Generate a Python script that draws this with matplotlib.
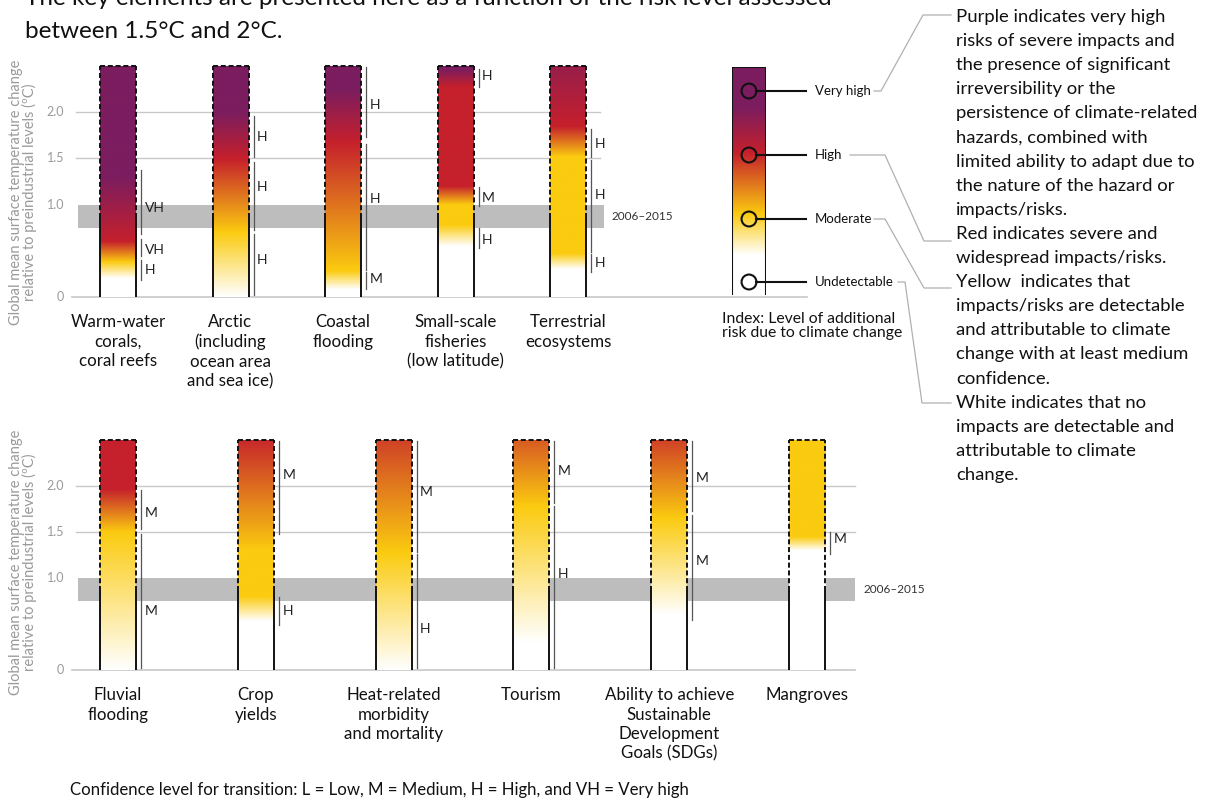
import numpy as np
import matplotlib
matplotlib.use("Agg")
import matplotlib.pyplot as plt
from matplotlib.lines import Line2D

plt.rcParams['font.family'] = ['Lato', 'DejaVu Sans']

W, H = 1213, 808

# ------------------------------------------------------------------ data
top_categories = ["Warm-water\ncorals,\ncoral reefs",
                  "Arctic\n(including\nocean area\nand sea ice)",
                  "Coastal\nflooding",
                  "Small-scale\nfisheries\n(low latitude)",
                  "Terrestrial\necosystems"]
# colour stops: (temperature, risk level) 0=white 1=yellow 2=red 3=purple
top_stops = [
    [(0.20, 0), (0.38, 1), (0.60, 2), (1.30, 3), (2.50, 3)],
    [(0.00, 0), (0.70, 1), (1.50, 2), (2.00, 3), (2.50, 3)],
    [(0.08, 0), (0.28, 1), (1.68, 2), (2.25, 3), (2.50, 3)],
    [(0.55, 0), (0.78, 1), (1.00, 1), (1.20, 2), (2.28, 2), (2.47, 3), (2.50, 3)],
    [(0.30, 0), (0.47, 1), (1.52, 1), (1.85, 2), (2.50, 2.6)],
]
# confidence brackets: (low, high, label, label temperature)
top_brackets = [
    [(0.18, 0.40, "H", 0.29), (0.44, 0.63, "VH", 0.51), (0.68, 1.37, "VH", 0.96)],
    [(0.02, 0.68, "H", 0.40), (0.73, 1.46, "H", 1.19), (1.52, 1.96, "H", 1.73)],
    [(0.09, 0.27, "M", 0.19), (0.29, 1.66, "H", 1.06), (1.73, 2.49, "H", 2.08)],
    [(0.53, 0.75, "H", 0.62), (0.99, 1.19, "M", 1.07), (2.27, 2.47, "H", 2.39)],
    [(0.27, 0.46, "H", 0.37), (0.49, 1.48, "H", 1.10), (1.51, 1.82, "H", 1.66)],
]

bottom_categories = ["Fluvial\nflooding",
                     "Crop\nyields",
                     "Heat-related\nmorbidity\nand mortality",
                     "Tourism",
                     "Ability to achieve\nSustainable\nDevelopment\nGoals (SDGs)",
                     "Mangroves"]
bottom_stops = [
    [(0.00, 0), (1.50, 1), (1.97, 2), (2.50, 2)],
    [(0.53, 0), (0.80, 1), (1.30, 1), (2.50, 1.95)],
    [(0.00, 0), (1.28, 1), (2.50, 1.8)],
    [(0.30, 0), (1.78, 1), (2.50, 1.65)],
    [(0.60, 0), (1.65, 1), (2.50, 1.8)],
    [(1.30, 0), (1.45, 1), (2.50, 1)],
]
bottom_brackets = [
    [(0.02, 1.48, "M", 0.64), (1.53, 1.96, "M", 1.71)],
    [(0.49, 0.79, "H", 0.64), (1.48, 2.49, "M", 2.12)],
    [(0.02, 1.26, "H", 0.45), (1.28, 2.49, "M", 1.93)],
    [(0.02, 1.78, "H", 1.04), (1.82, 2.49, "M", 2.16)],
    [(0.54, 1.68, "M", 1.19), (1.73, 2.49, "M", 2.09)],
    [(1.26, 1.50, "M", 1.42)],
]

band_range = (0.75, 1.0)
band_label = "2006–2015"
solid_until = 0.86
ember_top = 2.5
grid_levels = [1.5, 2.0]
ytick_values = [0, 1.0, 1.5, 2.0]
ytick_labels = ["0", "1.0", "1.5", "2.0"]

legend_stops = [(0.0, 0), (0.17, 0), (0.35, 1), (0.62, 2), (0.82, 3), (1.0, 3)]
legend_labels = ["Very high", "High", "Moderate", "Undetectable"]

ylabel = "Global mean surface temperature change\nrelative to preindustrial levels (ºC)"
title_lines = ["The key elements are presented here as a function of the risk level assessed",
               "between 1.5°C and 2°C."]
legend_title = "Index: Level of additional\nrisk due to climate change"
right_text = ["Purple indicates very high", "risks of severe impacts and",
              "the presence of significant", "irreversibility or the",
              "persistence of climate-related", "hazards, combined with",
              "limited ability to adapt due to", "the nature of the hazard or",
              "impacts/risks.", "Red indicates severe and",
              "widespread impacts/risks.", "Yellow  indicates that",
              "impacts/risks are detectable", "and attributable to climate",
              "change with at least medium", "confidence.",
              "White indicates that no", "impacts are detectable and",
              "attributable to climate", "change."]
footnote = "Confidence level for transition: L = Low, M = Medium, H = High, and VH = Very high"

LEVEL_RGB = np.array([[255, 255, 255], [251, 203, 16], [197, 32, 44], [123, 29, 95]]) / 255.0

# ------------------------------------------------------------------ helpers
fig = plt.figure(figsize=(W / 100, H / 100), dpi=100)


def fx(px):
    return px / W


def fy(py):
    return 1 - py / H


def add_axes_px(x0, x1, ytop, ybot):
    return fig.add_axes([fx(x0), fy(ybot), fx(x1) - fx(x0), (ybot - ytop) / H])


def ember_rgb(stops, vals):
    t = [s[0] for s in stops]
    lv = [s[1] for s in stops]
    lev = np.interp(vals, t, lv)
    lo = np.clip(np.floor(lev), 0, 2).astype(int)
    fr = (lev - lo)[:, None]
    return LEVEL_RGB[lo] * (1 - fr) + LEVEL_RGB[lo + 1] * fr


GRAY_TXT = "#9a9a9a"
GRID = "#c8c8c8"
BAND = "#bdbdbd"


def panel(ax, cats, stops, brackets, ppu_x, ppu_y, x_grid, x_band, x_zero):
    ax.set_axis_off()
    w = 36 / ppu_x
    # grid, band, baseline
    for g in grid_levels:
        ax.plot(x_grid, [g, g], color=GRID, lw=1, zorder=1)
    ax.fill_between(x_band, band_range[0], band_range[1], color=BAND, lw=0, zorder=1)
    ax.plot(x_zero, [0, 0], color=GRID, lw=1.2, zorder=1, clip_on=False)
    ax.text(x_band[1] + 8 / ppu_x, np.mean(band_range), band_label, fontsize=8.5,
            color="#333333", va="center", ha="left")
    vals = np.linspace(0, ember_top, 400)
    for i, (name, st, br) in enumerate(zip(cats, stops, brackets)):
        xl, xr = i - w / 2, i + w / 2
        rgb = ember_rgb(st, vals)
        ax.imshow(rgb[:, None, :], extent=[xl, xr, 0, ember_top], origin="lower",
                  aspect="auto", interpolation="bilinear", zorder=3)
        for xs in (xl, xr):
            ax.plot([xs, xs], [0, solid_until], color="#111111", lw=1.4, zorder=4,
                    solid_capstyle="butt")
            ax.plot([xs, xs], [solid_until, ember_top], color="#111111", lw=1.4,
                    ls=(0, (2.6, 1.4)), zorder=4)
        ax.plot([xl, xr], [ember_top, ember_top], color="#111111", lw=1.4,
                ls=(0, (2.6, 1.4)), zorder=4)
        xb = xr + 5 / ppu_x
        for lo, hi, lab, ly in br:
            ax.plot([xb, xb], [lo, hi], color="#555555", lw=0.9, zorder=4)
            ax.text(xr + 8.5 / ppu_x, ly, lab, fontsize=10, color="#222222",
                    va="center", ha="left", zorder=5)
        ax.text(i, -17 / ppu_y, name, ha="center", va="top", fontsize=12.2,
                linespacing=1.27, color="#111111", clip_on=False)
    for v, lab in zip(ytick_values, ytick_labels):
        ax.text(x_zero[0] - 8 / ppu_x, v, lab, ha="right", va="center", fontsize=9,
                color=GRAY_TXT)


# ---------------- top panel
ppu_y_top = 92.4
ppx_top = 112.5
c0 = 118
ax_top = add_axes_px(66, 880, 297 - 2.6 * ppu_y_top, 297)
panel(ax_top, top_categories, top_stops, top_brackets, ppx_top, ppu_y_top,
      x_grid=[(76 - c0) / ppx_top, (600 - c0) / ppx_top],
      x_band=[(78 - c0) / ppx_top, (604 - c0) / ppx_top],
      x_zero=[(72 - c0) / ppx_top, (807 - c0) / ppx_top])
ax_top.set_xlim((66 - c0) / ppx_top, (880 - c0) / ppx_top)
ax_top.set_ylim(0, 2.6)

# ---------------- bottom panel
ppu_y_bot = 92.0
ppx_bot = 137.8
ax_bot = add_axes_px(66, 880, 670 - 2.6 * ppu_y_bot, 670)
panel(ax_bot, bottom_categories, bottom_stops, bottom_brackets, ppx_bot, ppu_y_bot,
      x_grid=[(76 - c0) / ppx_bot, (855 - c0) / ppx_bot],
      x_band=[(78 - c0) / ppx_bot, (855 - c0) / ppx_bot],
      x_zero=[(72 - c0) / ppx_bot, (855 - c0) / ppx_bot])
ax_bot.set_xlim((66 - c0) / ppx_bot, (880 - c0) / ppx_bot)
ax_bot.set_ylim(0, 2.6)

# y-axis labels
fig.text(fx(23), fy(192), ylabel, rotation=90, ha="center", va="center",
         fontsize=10.5, color=GRAY_TXT, linespacing=0.95)
fig.text(fx(23), fy(562), ylabel, rotation=90, ha="center", va="center",
         fontsize=10.5, color=GRAY_TXT, linespacing=0.95)

# ---------------- legend bar
ax_leg = add_axes_px(732, 766, 67, 297)
ax_leg.set_axis_off()
lv = np.linspace(0, 1, 300)
ax_leg.imshow(ember_rgb(legend_stops, lv)[:, None, :], extent=[0, 1, 0.013, 1],
              origin="lower", aspect="auto", interpolation="bilinear", zorder=1)
ax_leg.plot([0, 0], [0.013, 1], color="#111111", lw=1.5, zorder=3)
ax_leg.plot([1, 1], [0.013, 1], color="#111111", lw=1.5, zorder=3)
ax_leg.plot([0, 1], [1, 1], color="#111111", lw=1.5, zorder=3)
ax_leg.set_xlim(0, 1)
ax_leg.set_ylim(0, 1)
leg_y = [(297 - p) / 230 for p in (91, 155, 219, 282)]
r = 7.3 / 34
for yv, lab in zip(leg_y, legend_labels):
    ax_leg.plot([0.5 + r, (806 - 732) / 34], [yv, yv], color="#111111", lw=1.5,
                zorder=4, clip_on=False)
    ax_leg.scatter([0.5], [yv], s=115, facecolors="none", edgecolors="#111111",
                   linewidths=1.5, zorder=5, clip_on=False)
    ax_leg.text((815 - 732) / 34, yv, lab, fontsize=9.5, color="#111111",
                va="center", ha="left", clip_on=False)

fig.text(fx(722), fy(326), legend_title, fontsize=11.3, color="#111111",
         va="center", ha="left", linespacing=1.0)

# connectors
connectors = [
    [(874, 91), (881, 91), (923, 15), (951, 15)],
    [(850, 155), (885, 155), (924, 241), (951, 241)],
    [(874, 219), (885, 219), (924, 288), (951, 288)],
    [(898, 282), (905, 282), (922, 403), (951, 403)],
]
for path in connectors:
    xs = [fx(p[0]) for p in path]
    ys = [fy(p[1]) for p in path]
    fig.add_artist(Line2D(xs, ys, color="#b0b0b0", lw=0.9, transform=fig.transFigure))

# right text
for k, line in enumerate(right_text):
    fig.text(fx(956), fy(17 + 24.1 * k), line, fontsize=13.3, color="#111111",
             va="center", ha="left")

# title
fig.text(fx(25), fy(5), title_lines[0], fontsize=17.5, color="#111111", va="baseline", ha="left")
fig.text(fx(25), fy(38), title_lines[1], fontsize=17.5, color="#111111", va="baseline", ha="left")

# footnote
fig.text(fx(70), fy(790), footnote, fontsize=12.1, color="#111111", va="center", ha="left")

fig.savefig("out.png", dpi=100, facecolor="white")
